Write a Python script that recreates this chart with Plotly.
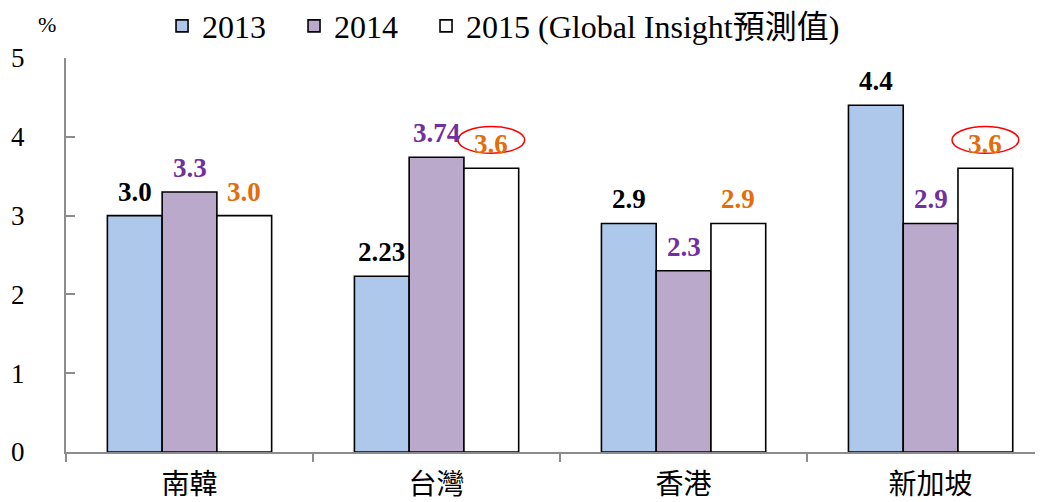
import plotly.graph_objects as go

categories = ["南韓", "台灣", "香港", "新加坡"]
series_names = ["2013", "2014", "2015 (Global Insight預測值)"]
v2013 = [3.0, 2.23, 2.9, 4.4]
v2014 = [3.3, 3.74, 2.3, 2.9]
v2015 = [3.0, 3.6, 2.9, 3.6]
lbl2013 = ["3.0", "2.23", "2.9", "4.4"]
lbl2014 = ["3.3", "3.74", "2.3", "2.9"]
lbl2015 = ["3.0", "3.6", "2.9", "3.6"]
circled_2015 = [False, True, False, True]

fills = ["#AEC8EB", "#BBA9CC", "#FFFFFF"]
label_colors = ["#000000", "#7030A0", "#E46C0A"]
legend_ids = ["legend", "legend2", "legend3"]
legend_x = [0.0983, 0.2334, 0.3685]
SERIF = "Liberation Serif, Noto Sans CJK TC, serif"
BARGAP = 0.335
NSER = 3

fig = go.Figure()
for name, vals, fc, lg in zip(series_names, [v2013, v2014, v2015], fills, legend_ids):
    fig.add_trace(go.Bar(
        name=name, x=categories, y=vals, legend=lg,
        marker=dict(color=fc, line=dict(color="#000000", width=1.6)),
    ))

bw = (1 - BARGAP) / NSER
for s, (vals, lbls, lc) in enumerate(zip([v2013, v2014, v2015],
                                          [lbl2013, lbl2014, lbl2015], label_colors)):
    off = (s - (NSER - 1) / 2) * bw
    for i, (v, t) in enumerate(zip(vals, lbls)):
        fig.add_annotation(x=i + off, y=v, xref="x", yref="y", text="<b>%s</b>" % t,
                           showarrow=False, xanchor="center", yanchor="bottom", yshift=7,
                           font=dict(family=SERIF, size=27, color=lc))

for i, (v, c) in enumerate(zip(v2015, circled_2015)):
    if c:
        cx = i + bw
        cy = v + 0.36
        fig.add_shape(type="circle", xref="x", yref="y",
                      x0=cx - 0.135, x1=cx + 0.135, y0=cy - 0.17, y1=cy + 0.17,
                      line=dict(color="#FF0000", width=1.5))

fig.add_annotation(text="%", xref="paper", yref="paper", x=-0.0194, y=1.086,
                   xanchor="center", yanchor="middle", showarrow=False,
                   font=dict(family=SERIF, size=22, color="#000000"))

legend_common = dict(orientation="h", y=1.081, xanchor="left", yanchor="middle",
                     font=dict(family=SERIF, size=32, color="#000000"),
                     bgcolor="rgba(0,0,0,0)")

fig.update_layout(
    width=1035, height=494,
    margin=dict(l=58, r=0, t=50, b=50, autoexpand=False),
    paper_bgcolor="white", plot_bgcolor="white",
    barmode="group", bargap=BARGAP, bargroupgap=0,
    showlegend=True,
    legend=dict(x=legend_x[0], **legend_common),
    legend2=dict(x=legend_x[1], **legend_common),
    legend3=dict(x=legend_x[2], **legend_common),
    xaxis=dict(range=[-0.5, 3.455], showline=True, linecolor="#8C8C8C", linewidth=2,
               ticks="outside", tickson="boundaries", ticklen=8, tickcolor="#8C8C8C",
               tickwidth=1.5, showgrid=False, ticklabelstandoff=6,
               tickfont=dict(family="Noto Sans CJK TC, serif", size=28, color="#000000")),
    yaxis=dict(range=[0, 5], dtick=1, showline=True, linecolor="#8C8C8C", linewidth=2,
               ticks="inside", ticklen=9, tickcolor="#8C8C8C", tickwidth=1.5,
               showgrid=False, zeroline=False, ticklabelstandoff=34,
               tickfont=dict(family=SERIF, size=27, color="#000000")),
)

fig.write_html("out.html")
